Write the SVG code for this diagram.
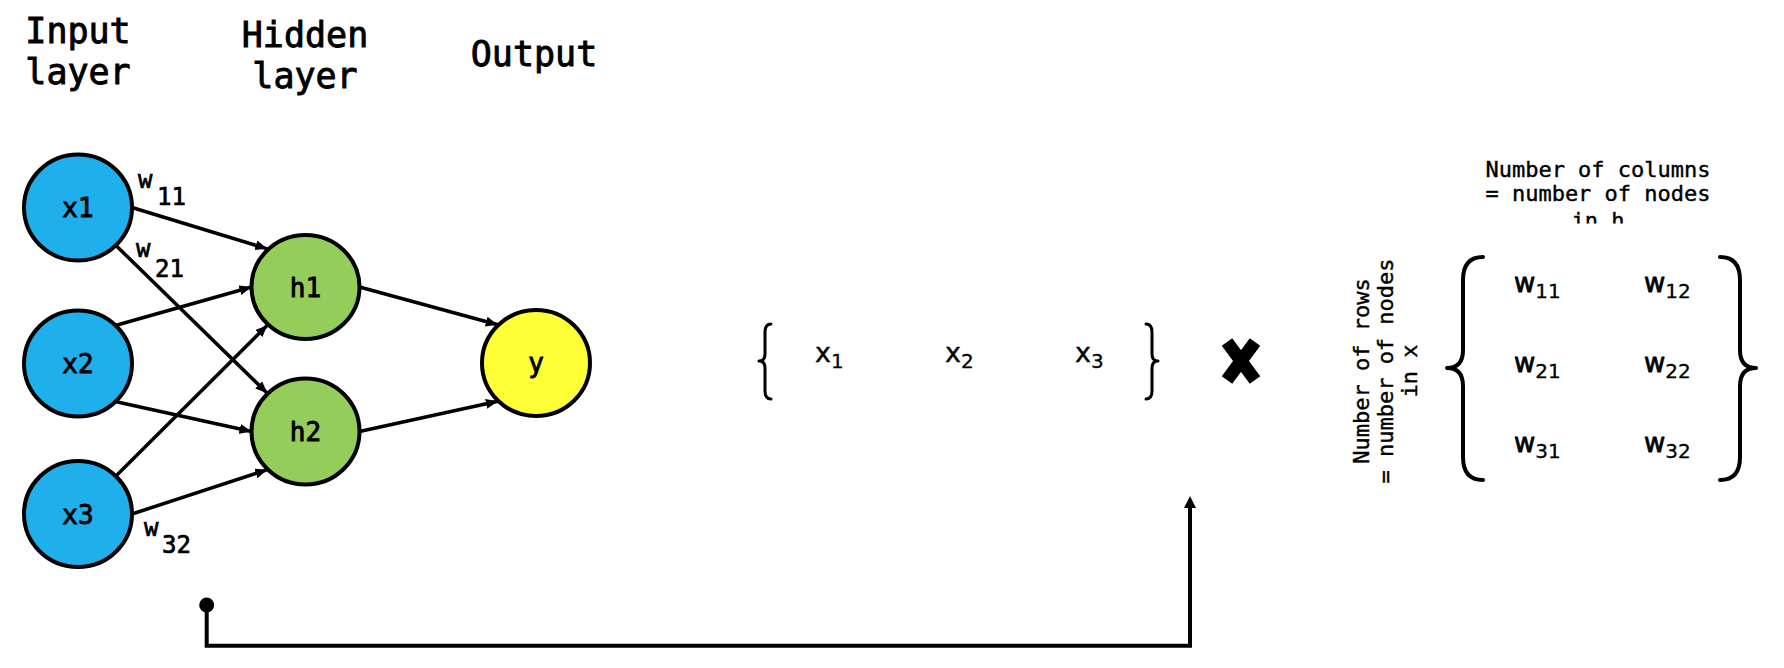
<svg xmlns="http://www.w3.org/2000/svg" width="1784" height="668" viewBox="0 0 1784 668">
<style>
.t{font-family:"DejaVu Sans Mono","Liberation Mono",monospace;fill:#000;stroke:#000;stroke-width:0.6}
.title{font-size:35px;text-anchor:middle;stroke-width:0.9}
.lbl{font-size:26px;text-anchor:middle;stroke-width:0.9}
.w{font-size:24px;stroke-width:0.7}
.node{stroke:#000;stroke-width:4}
.in{fill:#1FB0EC}
.hid{fill:#95CD5B}
.out{fill:#FFFF38}
.edge{stroke:#000;stroke-width:3.5;fill:none;marker-end:url(#arr)}
.brace{stroke:#000;fill:none;stroke-linecap:round;stroke-linejoin:round}
.m{font-size:22px;text-anchor:middle;stroke-width:0.4}
.s{font-family:"DejaVu Sans","Liberation Sans",sans-serif;fill:#000;stroke:#000}
.mw{font-size:26px;stroke-width:0.8}
.sub{font-size:20px;stroke-width:0.3}
.vx{font-size:27px;stroke-width:0.4}
</style>
<defs>
<marker id="arr" markerUnits="userSpaceOnUse" markerWidth="13" markerHeight="11" refX="12" refY="5" orient="auto">
<path d="M0,0 L12,5 L0,10 z" fill="#000" stroke="none"/>
</marker>
<clipPath id="clipH"><rect x="1400" y="180" width="400" height="43.5"/></clipPath>
</defs>

<g id="titles">
<text class="t title" x="78" y="42.5">Input</text>
<text class="t title" x="78" y="83.5">layer</text>
<text class="t title" x="305" y="47">Hidden</text>
<text class="t title" x="305" y="88">layer</text>
<text class="t title" x="534" y="66">Output</text>
</g>

<g id="connectors">
<line class="edge" x1="132" y1="207.5" x2="267.3" y2="248.8"/>
<line class="edge" x1="116.2" y1="245.7" x2="267.3" y2="393.3"/>
<line class="edge" x1="116.2" y1="325.3" x2="251.5" y2="287"/>
<line class="edge" x1="116.2" y1="401.7" x2="251.5" y2="431.5"/>
<line class="edge" x1="116.2" y1="475.8" x2="267.3" y2="325.2"/>
<line class="edge" x1="132" y1="514" x2="267.3" y2="469.7"/>
<line class="edge" x1="359.5" y1="287" x2="497.8" y2="324.8"/>
<line class="edge" x1="359.5" y1="431.5" x2="497.8" y2="401.2"/>
<circle cx="206.7" cy="605" r="7.5" fill="#000"/>
<path d="M206.7,605 V645.7 H1190 V508" stroke="#000" stroke-width="4" fill="none"/>
<path d="M1184,508 L1190,496 L1196,508 z" fill="#000"/>
</g>

<g id="weights">
<text class="t w" x="138" y="188">w</text><text class="t w" x="157" y="205">11</text>
<text class="t w" x="136" y="257">w</text><text class="t w" x="155" y="277">21</text>
<text class="t w" x="144" y="536">w</text><text class="t w" x="162" y="553">32</text>
</g>

<g id="x1"><ellipse class="node in" cx="78" cy="207.5" rx="54" ry="53"/><text class="t lbl" x="78" y="217">x1</text></g>
<g id="x2"><ellipse class="node in" cx="78" cy="363.5" rx="54" ry="53"/><text class="t lbl" x="78" y="373">x2</text></g>
<g id="x3"><ellipse class="node in" cx="78" cy="514" rx="54" ry="53"/><text class="t lbl" x="78" y="524">x3</text></g>
<g id="h1"><ellipse class="node hid" cx="305.5" cy="287" rx="54" ry="52"/><text class="t lbl" x="305.5" y="296.5">h1</text></g>
<g id="h2"><ellipse class="node hid" cx="305.5" cy="431.5" rx="54" ry="53"/><text class="t lbl" x="305.5" y="441">h2</text></g>
<g id="y"><ellipse class="node out" cx="536" cy="363" rx="54" ry="53"/><text class="t lbl" x="536" y="372">y</text></g>

<g id="vector">
<path class="brace" stroke-width="3" d="M771,324 Q765,324 765,332 V354 Q765,361 759,361 Q765,361 765,368 V391 Q765,399 771,399"/>
<path class="brace" stroke-width="3" d="M1146,324 Q1152,324 1152,332 V354 Q1152,361 1158,361 Q1152,361 1152,368 V391 Q1152,399 1146,399"/>
<text class="s vx" x="815" y="362">x<tspan class="sub" dy="6">1</tspan></text>
<text class="s vx" x="945" y="362">x<tspan class="sub" dy="6">2</tspan></text>
<text class="s vx" x="1075" y="362">x<tspan class="sub" dy="6">3</tspan></text>
</g>

<g id="times">
<path d="M1227,342 L1255,380 M1255,342 L1227,380" stroke="#000" stroke-width="13" fill="none"/>
</g>

<g id="matrix">
<text class="t m" x="1598" y="177">Number of columns</text>
<text class="t m" x="1598" y="201">= number of nodes</text>
<text class="t m" x="1598" y="228" clip-path="url(#clipH)">in h</text>
<text class="t m" transform="translate(1369,371) rotate(-90)"><tspan x="0" y="0">Number of rows</tspan><tspan x="0" y="24">= number of nodes</tspan><tspan x="0" y="48">in x</tspan></text>
<path class="brace" stroke-width="4" d="M1483,257 Q1463,257 1463,280 V350 Q1463,368 1447,368 Q1463,368 1463,386 V457 Q1463,480 1483,480"/>
<path class="brace" stroke-width="4" d="M1720,257 Q1740,257 1740,280 V350 Q1740,368 1756,368 Q1740,368 1740,386 V457 Q1740,480 1720,480"/>
<text class="s mw" x="1514" y="292">w<tspan class="sub" dy="6">11</tspan></text>
<text class="s mw" x="1644" y="292">w<tspan class="sub" dy="6">12</tspan></text>
<text class="s mw" x="1514" y="372">w<tspan class="sub" dy="6">21</tspan></text>
<text class="s mw" x="1644" y="372">w<tspan class="sub" dy="6">22</tspan></text>
<text class="s mw" x="1514" y="452">w<tspan class="sub" dy="6">31</tspan></text>
<text class="s mw" x="1644" y="452">w<tspan class="sub" dy="6">32</tspan></text>
</g>
</svg>
